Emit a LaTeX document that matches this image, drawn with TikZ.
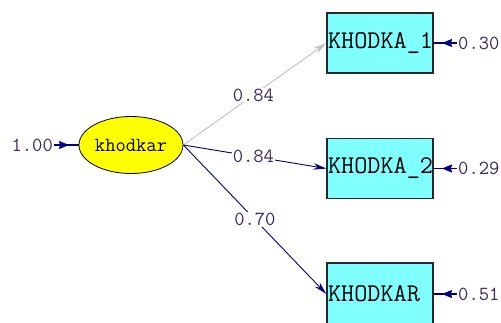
\documentclass[tikz,border=0pt]{standalone}
\usepackage{fontspec}
\usetikzlibrary{arrows.meta,decorations.markings,shapes.geometric}
\definecolor{navyline}{RGB}{0,0,128}
\definecolor{grayline}{RGB}{192,192,192}
\definecolor{boxcyan}{RGB}{128,255,255}
\definecolor{latyellow}{RGB}{255,255,0}
\definecolor{numcol}{RGB}{60,40,90}
\definecolor{boxedge}{RGB}{40,40,40}
\begin{document}
\begin{tikzpicture}[x=1pt,y=-1pt,
  obsbox/.style={draw=boxedge, line width=1.3pt, fill=boxcyan,
    minimum width=106pt, minimum height=60pt, inner ysep=0pt, inner xsep=1pt,
    text width=104pt, align=left, font=\ttfamily\fontsize{25.5}{25.5}\selectfont},
  latent/.style={ellipse, draw=black, line width=0.8pt, fill=latyellow,
    minimum width=104pt, minimum height=57pt, inner sep=0pt,
    font=\ttfamily\fontsize{20}{20}\selectfont},
  numlab/.style={font=\ttfamily\fontsize{20}{20}\selectfont, text=numcol,
    inner sep=1pt},
  pathlab/.style={numlab, fill=white},
  pathline/.style={draw=navyline, line width=0.9pt, -{Stealth[length=13pt,width=6.5pt]}},
  grayline/.style={draw=grayline, line width=0.9pt, -{Stealth[length=13pt,width=6.5pt]}},
  errarrow/.style={draw=navyline, line width=1.6pt, postaction={decorate},
    decoration={markings, mark=at position 15pt with {\arrow{Stealth[length=10pt,width=8pt,inset=1pt]}}}}
]
\useasboundingbox (0,0) rectangle (501,322);
\clip (0,0) rectangle (501,322);
\node[latent] (k) at (131,145) {khodkar};
\node[obsbox] (b1) at (380,43) {KHODKA\_1};
\node[obsbox] (b2) at (380,168.5) {KHODKA\_2};
\node[obsbox, minimum height=62pt] (b3) at (380,294) {KHODKAR};
\node[numlab, anchor=east] (ek) at (54,145) {1.00};
\node[numlab, anchor=west] (e1) at (457,43) {0.30};
\node[numlab, anchor=west] (e2) at (457,168.5) {0.29};
\node[numlab, anchor=west] (e3) at (457,294) {0.51};
\draw[errarrow] (ek.east) -- (k.west);
\draw[errarrow] (e1.west) -- (b1.east);
\draw[errarrow] (e2.west) -- (b2.east);
\draw[errarrow] (e3.west) -- (b3.east);
\draw[grayline] (k.east) -- node[pathlab, pos=0.49] (l1) {0.84} (b1.west);
\draw[pathline] (k.east) -- node[pathlab, pos=0.49] (l2) {0.84} (b2.west);
\draw[pathline] (k.east) -- node[pathlab, pos=0.5] (l3) {0.70} (b3.west);
\end{tikzpicture}
\end{document}
